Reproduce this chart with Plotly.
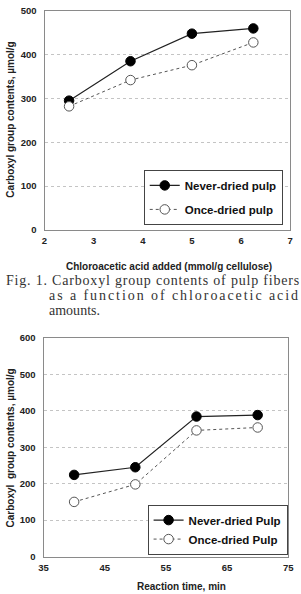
import plotly.graph_objects as go

W, H = 301, 594

# ---- data ----
top_x = [2.5, 3.75, 5, 6.25]
top_never = [295, 385, 448, 460]
top_once = [282, 342, 376, 428]
top_labels = ["Never-dried pulp", "Once-dried pulp"]

bot_x = [40, 50, 60, 70]
bot_never = [224, 245, 384, 388]
bot_once = [150, 198, 346, 354]
bot_labels = ["Never-dried Pulp", "Once-dried Pulp"]

top_xticks = [2, 3, 4, 5, 6, 7]
top_yticks = [0, 100, 200, 300, 400, 500]
bot_xticks = [35, 45, 55, 65, 75]
bot_yticks = [0, 100, 200, 300, 400, 500, 600]

caption_lines = ["Fig. 1. Carboxyl group contents of pulp fibers",
                 "as a function of chloroacetic acid",
                 "amounts."]


def px(x):
    return x / W


def py(y):
    return (H - y) / H


TICKFONT = dict(family="Liberation Sans", size=9.5, color="#222", weight="bold")
TITLEFONT = dict(family="Liberation Sans", size=10, color="#222", weight="bold")
LEGFONT = dict(family="Liberation Sans", size=11.5, color="#111", weight="bold")
CAPFONT = dict(family="Liberation Serif", size=14, color="#333")

fig = go.Figure()


def add_series(x, never, once, labels, xa, ya, leg):
    fig.add_trace(go.Scatter(
        x=x, y=never, mode="lines+markers", name=labels[0],
        xaxis=xa, yaxis=ya, legend=leg, legendgroup=leg + "a",
        line=dict(color="#222", width=1.2),
        marker=dict(symbol="circle", size=9.5, color="#000", line=dict(color="#000", width=1)),
    ))
    fig.add_trace(go.Scatter(
        x=x, y=once, mode="lines+markers", name=labels[1],
        xaxis=xa, yaxis=ya, legend=leg, legendgroup=leg + "b",
        line=dict(color="#555", width=1, dash="dot"),
        marker=dict(symbol="circle", size=9.5, color="#fff", line=dict(color="#555", width=1)),
    ))


add_series(top_x, top_never, top_once, top_labels, "x", "y", "legend")
add_series(bot_x, bot_never, bot_once, bot_labels, "x2", "y2", "legend2")

axis_common = dict(
    showline=True, mirror=True, linecolor="#8a8a8a", linewidth=1,
    ticks="", tickfont=TICKFONT, zeroline=False,
)

fig.update_layout(
    width=W, height=H,
    margin=dict(l=0, r=0, t=0, b=0),
    paper_bgcolor="white", plot_bgcolor="white",
    showlegend=True,
    xaxis=dict(domain=[px(41), px(296)], anchor="y", range=[2, 7],
               tickvals=top_xticks, showgrid=False, ticklabelstandoff=2, **axis_common),
    yaxis=dict(domain=[py(228), py(5)], anchor="x", range=[0, 500],
               tickvals=top_yticks, showgrid=True, gridcolor="#c4c4c4",
               griddash="dot", gridwidth=1, ticklabelstandoff=5, **axis_common),
    xaxis2=dict(domain=[px(40), px(294)], anchor="y2", range=[35, 75],
                tickvals=bot_xticks, showgrid=False, ticklabelstandoff=2, **axis_common),
    yaxis2=dict(domain=[py(561), py(338)], anchor="x2", range=[0, 600],
                tickvals=bot_yticks, showgrid=True, gridcolor="#c4c4c4",
                griddash="dot", gridwidth=1, ticklabelstandoff=5, **axis_common),
    legend=dict(x=px(144), y=py(167), xanchor="left", yanchor="top",
                bordercolor="#444", borderwidth=1, bgcolor="white",
                font=LEGFONT, traceorder="grouped", tracegroupgap=5),
    legend2=dict(x=px(148), y=py(508), xanchor="left", yanchor="top",
                 bordercolor="#444", borderwidth=1, bgcolor="white",
                 font=LEGFONT, traceorder="grouped", tracegroupgap=0),
)

ann = []
# axis titles
ann.append(dict(text="Carboxyl group contents, µmol/g", x=px(6), y=py(116),
                xref="paper", yref="paper", textangle=-90, showarrow=False,
                font=TITLEFONT, xanchor="center", yanchor="middle"))
ann.append(dict(text="Chloroacetic acid added (mmol/g cellulose)", x=px(170), y=py(265),
                xref="paper", yref="paper", showarrow=False,
                font=TITLEFONT, xanchor="center", yanchor="middle"))
ann.append(dict(text="Carboxyl  group contents, µmol/g", x=px(6), y=py(450),
                xref="paper", yref="paper", textangle=-90, showarrow=False,
                font=TITLEFONT, xanchor="center", yanchor="middle"))
ann.append(dict(text="Reaction time, min", x=px(183), y=py(591),
                xref="paper", yref="paper", showarrow=False,
                font=TITLEFONT, xanchor="center", yanchor="middle"))

# caption (justified via letter-spacing in post_script)
cap_x = [0, 45, 45]
cap_y = [280, 295, 310]
for t, xx, yy in zip(caption_lines, cap_x, cap_y):
    ann.append(dict(text=t, x=px(xx), y=py(yy), xref="paper", yref="paper",
                    showarrow=False, font=CAPFONT, xanchor="left", yanchor="middle",
                    align="left", borderpad=0))

fig.update_layout(annotations=ann)

post = """
try {
  var targets = {};
  targets[%s] = 300;
  targets[%s] = 300;
  targets[%s] = 100;
  var gd = document.getElementById('{plot_id}');
  var gdr = gd.getBoundingClientRect();
  gd.querySelectorAll('text.annotation-text').forEach(function(t){
    var s = t.textContent;
    if (targets[s]) {
      var ls = 0;
      for (var k = 0; k < 4; k++) {
        t.setAttribute('letter-spacing', ls + 'px');
        var r = t.getBoundingClientRect();
        var right = r.right - gdr.left;
        ls = ls + (targets[s] - right) / s.length;
        if (ls < 0) { ls = 0; }
      }
      t.setAttribute('letter-spacing', ls + 'px');
    }
  });
} catch (e) {}
""" % tuple('"%s"' % c for c in caption_lines)

fig.write_html("out.html", post_script=post)
